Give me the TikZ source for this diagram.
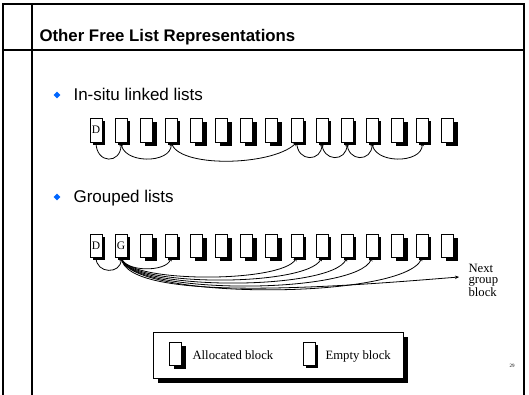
\documentclass[tikz,border=0pt]{standalone}
\usepackage{fontspec}
\setmainfont{Liberation Serif}
\setsansfont{Liberation Sans}
\usetikzlibrary{arrows.meta,shadows,shapes.geometric}
\definecolor{bulletblue}{RGB}{0,102,255}
\begin{document}
\begin{tikzpicture}[x=1pt,y=-1pt,
  frame/.style={line width=1.3pt},
  blk/.style={draw,fill=white,line width=0.6pt,minimum width=12pt,minimum height=24pt,inner sep=0pt,font=\fontsize{11.5}{11.5}\selectfont},
  alloc/.style={blk,drop shadow={shadow xshift=4.5pt,shadow yshift=-4pt,fill=black,opacity=1}},
  free/.style={blk,drop shadow={shadow xshift=3pt,shadow yshift=-3pt,fill=black,opacity=1}},
  link/.style={line width=0.8pt,-{Stealth[length=4pt,width=3.5pt]}},
  bulletmark/.style={diamond,fill=bulletblue,inner sep=0pt,minimum size=7pt},
  itemtext/.style={anchor=base west,font=\sffamily\fontsize{17}{20}\selectfont},
  serif/.style={font=\fontsize{12.7}{11.5}\selectfont}
]
\useasboundingbox (0,0) rectangle (529,395);
% frame
\draw[frame] (3,400) -- (3,4) -- (524,4) -- (524,400);
\draw[frame] (32,4) -- (32,400);
\draw[frame] (3,50) -- (524,50);
% title
\node[anchor=base west,font=\sffamily\bfseries\fontsize{16.8}{20}\selectfont] (title) at (36,42) {Other Free List Representations};
% bullets
\node[bulletmark] (bul1) at (57,95) {};
\node[itemtext] (it1) at (70,101) {In-situ linked lists};
\node[bulletmark] (bul2) at (57,197) {};
\node[itemtext] (it2) at (70,203) {Grouped lists};
% row 1
\node[free] (a0) at (96,130) {D};
\foreach \k/\s in {1/free,2/alloc,3/free,4/alloc,5/alloc,6/alloc,7/alloc,8/free,9/free,10/free,11/free,12/alloc,13/free,14/alloc}
  \node[\s] (a\k) at ({96+25.1*\k},130) {};
\draw[link] (a0.south) .. controls +(0,22) and +(0,22) .. (a1.south);
\draw[link] (a1.south) .. controls +(0,22) and +(0,22) .. (a3.south);
\draw[link] (a3.south) .. controls +(5,26) and +(-25,24) .. (a8.south);
\draw[link] (a8.south) .. controls +(0,20) and +(0,20) .. (a9.south);
\draw[link] (a9.south) .. controls +(0,20) and +(0,20) .. (a10.south);
\draw[link] (a10.south) .. controls +(0,20) and +(0,20) .. (a11.south);
\draw[link] (a11.south) .. controls +(0,22) and +(0,22) .. (a13.south);
% row 2
\node[free,minimum height=23pt] (b0) at (96,245.5) {D};
\node[free,minimum height=23pt] (b1) at (121.1,245.5) {G};
\foreach \k/\s in {2/alloc,3/free,4/alloc,5/alloc,6/alloc,7/alloc,8/free,9/free,10/free,11/free,12/alloc,13/free,14/alloc}
  \node[\s,minimum height=23pt] (b\k) at ({96+25.1*\k},245.5) {};
\coordinate (nxt) at (459,277);
\node[serif,anchor=west,align=left] (nexttxt) at (465,280) {Next\\group\\block};
\draw[link] (b0.south) .. controls +(0,17) and +(0,17) .. (b1.south);
\draw[link] (b1.south) .. controls +(3,15) and +(-5,15) .. (b3.south);
\draw[link] (b1.south) .. controls +(4,26) and +(-15,26) .. (b8.south);
\draw[link] (b1.south) .. controls +(4,30) and +(-15,30) .. (b9.south);
\draw[link] (b1.south) .. controls +(4,34) and +(-15,34) .. (b10.south);
\draw[link] (b1.south) .. controls +(4,38) and +(-15,38) .. (b11.south);
\draw[link] (b1.south) .. controls +(4,43) and +(-20,43) .. (b13.south);
\draw[link] (b1.south) .. controls +(4,48) and +(-100,8) .. (nxt);
% legend
\node[draw,fill=white,line width=0.8pt,minimum width=250pt,minimum height=46pt,
  drop shadow={shadow xshift=5pt,shadow yshift=-5pt,fill=black,opacity=1}] (legend) at (278,355) {};
\node[alloc,minimum height=23pt] (legA) at (175.5,353.5) {};
\node[serif,anchor=base west] (legAt) at (189,359) {Allocated block};
\node[free,minimum height=23pt] (legE) at (309,353.5) {};
\node[serif,anchor=base west] (legEt) at (322,359) {Empty block};
% page number
\node[font=\fontsize{5}{5}\selectfont] (pg) at (512,366) {29};
\end{tikzpicture}
\end{document}
